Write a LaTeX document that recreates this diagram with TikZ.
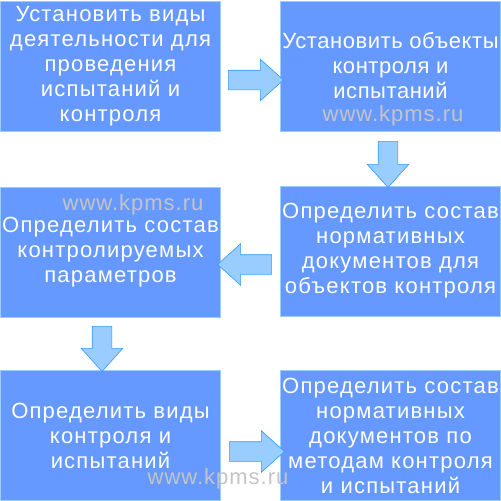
\documentclass[tikz,border=0pt]{standalone}
\usepackage{fontspec}
\setmainfont{Liberation Sans}
\newfontfamily\textoancho[LetterSpace=5.5]{Liberation Sans}
\newfontfamily\textoestrecho[LetterSpace=2.5]{Liberation Sans}
\newfontfamily\marcaancho[LetterSpace=4.5]{Liberation Sans}
\usetikzlibrary{shapes.arrows}
\definecolor{azul}{HTML}{6699FF}
\definecolor{celeste}{HTML}{99CCFF}
\definecolor{borde}{HTML}{3399FF}
\definecolor{marcagris}{HTML}{C4C4C4}

\begin{document}
\begin{tikzpicture}[x=1pt, y=-1pt, % 1 px = 1 pt, eje y hacia abajo
    caja/.style={rectangle, fill=azul, draw=celeste, line width=0.8pt,
        minimum width=220pt, minimum height=130pt, inner sep=0pt,
        align=center, text=white,
        font=\textoancho\fontsize{22}{25}\selectfont},
    flecha/.style={single arrow, fill=celeste, draw=borde, line width=0.6pt,
        inner sep=9.5pt, single arrow head extend=11pt,
        single arrow tip angle=84},
    marca/.style={text=marcagris, font=\marcaancho\fontsize{22}{25}\selectfont}]
    \useasboundingbox (0,0) rectangle (501,501);
    % Cajas
    \node[caja] (c1) at (110.5,66) {Установить виды\\деятельности для\\проведения\\испытаний и\\контроля};
    \node[caja, font=\textoestrecho\fontsize{22}{25}\selectfont] (c2) at (390.5,66) {Установить объекты\\контроля и\\испытаний};
    \node[caja] (c3) at (390.5,251) {Определить состав\\нормативных\\документов для\\объектов контроля};
    \node[caja] (c4) at (110.5,252) {Определить состав\\контролируемых\\параметров};
    \node[caja] (c5) at (110.5,435.5) {Определить виды\\контроля и\\испытаний};
    \node[caja] (c6) at (390.5,435.5) {Определить состав\\нормативных\\документов по\\методам контроля\\и испытаний};
    % Flechas
    \node[flecha, minimum height=55pt] (f1) at (250.5,80) {};
    \node[flecha, minimum height=46pt, shape border rotate=270] (f2) at (388,159) {};
    \node[flecha, minimum height=54pt, shape border rotate=180] (f3) at (250,264.5) {};
    \node[flecha, minimum height=45pt, shape border rotate=270] (f4) at (102,343.5) {};
    \node[flecha, minimum height=55pt] (f5) at (251.5,451.5) {};
    % Marcas de agua
    \node[marca] (m1) at (393,116) {www.kpms.ru};
    \node[marca] (m2) at (133,205) {www.kpms.ru};
    \node[marca] (m3) at (218,479) {www.kpms.ru};
\end{tikzpicture}
\end{document}
